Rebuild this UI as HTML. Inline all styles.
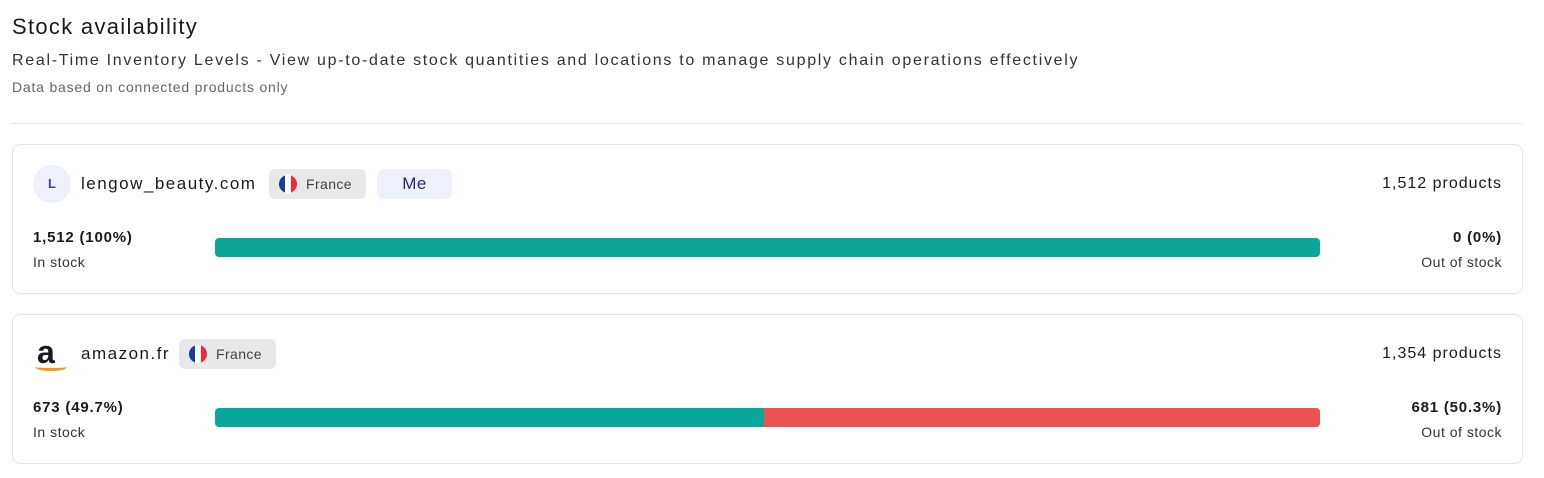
<!DOCTYPE html>
<html><head><style>
body{margin:0;width:1544px;height:478px;background:#fff;font-family:"Liberation Sans",sans-serif;color:#1a1a1a;position:relative;overflow:hidden}
.a{position:absolute;white-space:nowrap}
.card{position:absolute;left:12px;width:1511px;height:150px;border:1px solid #e4e4e7;border-radius:8px;box-sizing:border-box}
.bar{position:absolute;left:202px;top:93px;width:1105px;height:19px;border-radius:4px;overflow:hidden;background:#0ba89a}
.num{font-size:15px;font-weight:bold;letter-spacing:.8px}
.lbl{font-size:14px;color:#333;letter-spacing:.5px}
.tag{position:absolute;top:24px;height:30px;border-radius:6px;background:#e8e8e8;font-size:14px;color:#444;letter-spacing:.4px;line-height:30px}
.flag{position:absolute;left:10px;top:6px;width:18px;height:18px;border-radius:50%;background:linear-gradient(90deg,#1a3aa0 0 33%,#fff 33% 66%,#ef2b3a 66%)}
</style></head><body>
<div class="a" style="left:12px;top:14px;font-size:22px;letter-spacing:1.3px">Stock availability</div>
<div class="a" style="left:12px;top:52px;font-size:16px;letter-spacing:1.7px;color:#333">Real-Time Inventory Levels - View up-to-date stock quantities and locations to manage supply chain operations effectively</div>
<div class="a" style="left:12px;top:79px;font-size:14px;letter-spacing:.8px;color:#666">Data based on connected products only</div>
<div class="a" style="left:12px;top:123px;width:1510px;height:1px;background:#e4e4e7"></div>

<div class="card" style="top:144px">
 <div class="a" style="left:20px;top:20px;width:38px;height:38px;border-radius:50%;background:#eef0fb;color:#3b3bd6;font-weight:bold;font-size:13px;text-align:center;line-height:38px">L</div>
 <div class="a" style="left:68px;top:29px;font-size:17px;letter-spacing:1.5px">lengow_beauty.com</div>
 <div class="tag" style="left:256px;width:97px"><div class="flag"></div><span style="position:absolute;left:37px">France</span></div>
 <div class="tag" style="left:364px;width:75px;background:#eff0fd;color:#222a7a;font-size:17px;text-align:center">Me</div>
 <div class="a" style="right:20px;top:30px;font-size:16px;letter-spacing:1px">1,512 products</div>
 <div class="a num" style="left:20px;top:84px">1,512 (100%)</div>
 <div class="a lbl" style="left:20px;top:109px">In stock</div>
 <div class="bar"></div>
 <div class="a num" style="right:20px;top:84px">0 (0%)</div>
 <div class="a lbl" style="right:20px;top:109px">Out of stock</div>
</div>

<div class="card" style="top:314px">
 <div class="a" style="left:24px;top:21px;font-size:32px;font-weight:bold;line-height:32px">a</div>
 <div class="a" style="left:22px;top:48px;width:32px;height:8px;border-bottom:3px solid #f39a1c;border-radius:0 0 50% 50%;box-sizing:border-box"></div>
 <div class="a" style="left:68px;top:29px;font-size:17px;letter-spacing:1.5px">amazon.fr</div>
 <div class="tag" style="left:166px;width:97px"><div class="flag"></div><span style="position:absolute;left:37px">France</span></div>
 <div class="a" style="right:20px;top:30px;font-size:16px;letter-spacing:1px">1,354 products</div>
 <div class="a num" style="left:20px;top:84px">673 (49.7%)</div>
 <div class="a lbl" style="left:20px;top:109px">In stock</div>
 <div class="bar"><div style="position:absolute;left:549px;top:0;right:0;bottom:0;background:#ec5350"></div></div>
 <div class="a num" style="right:20px;top:84px">681 (50.3%)</div>
 <div class="a lbl" style="right:20px;top:109px">Out of stock</div>
</div>
</body></html>
